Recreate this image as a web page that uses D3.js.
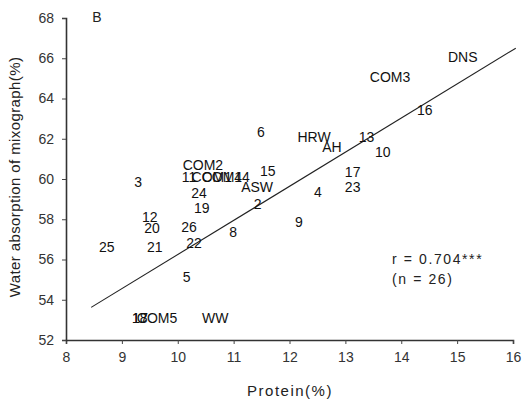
<!DOCTYPE html>
<html>
<head>
<meta charset="utf-8">
<script src="https://cdn.jsdelivr.net/npm/d3@7"></script>
<style>
  body { margin: 0; background: #fff; }
  svg text { font-family: "Liberation Sans", Arial, sans-serif; }
</style>
</head>
<body>
<div id="chart"></div>
<script>
// sample labels, protein (%) and water absorption (%)
var labels = ["6", "HRW", "AH", "13", "10", "16", "COM3", "DNS", "17", "23", "4",
  "COM2", "11", "COM1", "COM4", "14", "15", "ASW", "3", "24", "19", "2", "12",
  "20", "26", "8", "9", "22", "21", "25", "5", "WW", "1", "18", "7", "COM5"];
var protein = [11.49, 12.44, 12.76, 13.38, 13.67, 14.42, 13.80, 15.10, 13.13, 13.13, 12.51,
  10.45, 10.20, 10.61, 10.79, 11.15, 11.61, 11.42, 9.29, 10.38, 10.43, 11.43, 9.50,
  9.54, 10.20, 10.99, 12.17, 10.29, 9.59, 8.73, 10.16, 10.67, 9.25, 9.32, 9.40, 9.63];
var absorption = [62.35, 62.10, 61.60, 62.10, 61.35, 63.44, 65.08, 66.08, 60.36, 59.61, 59.36,
  60.71, 60.11, 60.11, 60.11, 60.11, 60.41, 59.61, 59.86, 59.31, 58.57, 58.77, 58.12,
  57.57, 57.62, 57.37, 57.87, 56.83, 56.63, 56.63, 55.13, 53.09, 53.09, 53.09, 53.09, 53.09];

// regression line end points
var fitX = [8.45, 16.05];
var fitY = [53.62, 66.5];

var xTicks = [8, 9, 10, 11, 12, 13, 14, 15, 16];
var yTicks = [52, 54, 56, 58, 60, 62, 64, 66, 68];

var width = 522, height = 402;

var svg = d3.select("#chart").append("svg")
    .attr("width", width)
    .attr("height", height);

var x = d3.scaleLinear().domain([8, 16]).range([66, 513]);
var y = d3.scaleLinear().domain([52, 68]).range([340, 18]);

// axes
var xAxis = svg.append("g")
    .attr("transform", "translate(0," + y(52) + ")")
    .call(d3.axisBottom(x).tickValues(xTicks).tickSize(4).tickPadding(8).tickFormat(d3.format("d")));

var yAxis = svg.append("g")
    .attr("transform", "translate(" + x(8) + ",0)")
    .call(d3.axisLeft(y).tickValues(yTicks).tickSize(4).tickPadding(8).tickFormat(d3.format("d")));

[xAxis, yAxis].forEach(function (a) {
    a.select(".domain").attr("stroke", "#333").attr("stroke-width", 1.6);
    a.selectAll(".tick line").attr("stroke", "#444");
    a.selectAll(".tick text").attr("fill", "#333").style("font-size", "14px");
});

// fit line
var line = d3.line()
    .x(function (d) { return x(d[0]); })
    .y(function (d) { return y(d[1]); });

svg.append("path")
    .datum(d3.zip(fitX, fitY))
    .attr("d", line)
    .attr("fill", "none")
    .attr("stroke", "#222")
    .attr("stroke-width", 1.1);

// data labels
svg.append("g").selectAll("text")
    .data(labels)
    .enter()
    .append("text")
    .attr("x", function (d, i) { return x(protein[i]); })
    .attr("y", function (d, i) { return y(absorption[i]); })
    .attr("text-anchor", "middle")
    .attr("dy", "0.36em")
    .attr("fill", "#111")
    .style("font-size", "14px")
    .text(function (d) { return d; });

// panel letter
svg.append("text")
    .attr("x", 97).attr("y", 22)
    .attr("text-anchor", "middle")
    .style("font-size", "14px")
    .attr("fill", "#222")
    .text("B");

// stats
svg.append("text")
    .attr("x", 392).attr("y", 264)
    .style("font-size", "14px").style("letter-spacing", "1.6px").attr("fill", "#222")
    .text("r = 0.704***");
svg.append("text")
    .attr("x", 392).attr("y", 284)
    .style("font-size", "14px").style("letter-spacing", "1.6px").attr("fill", "#222")
    .text("(n = 26)");

// axis titles
svg.append("text")
    .attr("x", 290).attr("y", 396)
    .attr("text-anchor", "middle")
    .style("font-size", "15px").style("letter-spacing", "1.5px").attr("fill", "#222")
    .text("Protein(%)");

svg.append("text")
    .attr("transform", "translate(20,177) rotate(-90)")
    .attr("text-anchor", "middle")
    .style("font-size", "15px").style("letter-spacing", "0.4px").attr("fill", "#222")
    .text("Water absorption of mixograph(%)");
</script>
</body>
</html>
